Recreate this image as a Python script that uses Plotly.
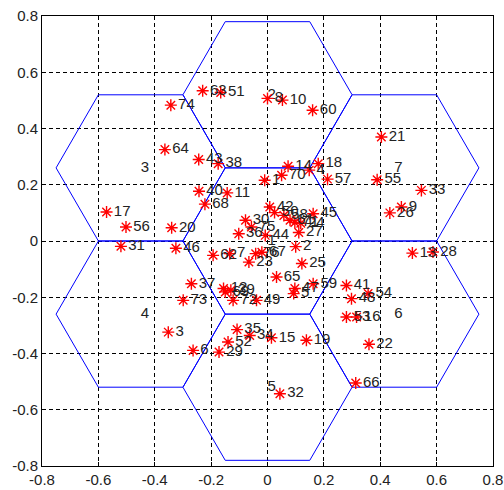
import numpy as np
import plotly.graph_objects as go

# Cell centres (hexagonal layout) and cell labels
cell_x = [0.0, 0.0, -0.45, -0.45, 0.0, 0.45, 0.45]
cell_y = [0.0, 0.52, 0.26, -0.26, -0.52, -0.26, 0.26]
cell_labels = ["1", "2", "3", "4", "5", "6", "7"]
cell_radius = 0.3

# User points
pt_labels = [
    "1", "2", "3", "4", "5", "6", "7", "8", "9", "10",
    "11", "12", "13", "14", "15", "16", "17", "18", "19", "20",
    "21", "22", "23", "24", "25", "26", "27", "28", "29", "30",
    "31", "32", "33", "34", "35", "36", "37", "38", "39", "40",
    "41", "42", "43", "44", "45", "46", "47", "48", "49", "50",
    "51", "52", "53", "54", "55", "56", "57", "58", "59", "60",
    "61", "62", "63", "64", "65", "66", "67", "68", "69", "70",
    "71", "72", "73", "74", "75", "76",
]
pt_x = [
    -0.010, 0.100, -0.352, 0.148, 0.093, -0.264, -0.134, 0.000, 0.475, 0.053,
    -0.143, -0.156, 0.514, 0.073, 0.014, 0.316, -0.571, 0.180, 0.138, -0.340,
    0.404, 0.360, -0.066, 0.118, 0.122, 0.434, 0.111, 0.587, -0.172, -0.078,
    -0.520, 0.044, 0.546, -0.063, -0.108, -0.102, -0.270, -0.175, -0.130, -0.243,
    0.280, 0.008, -0.244, -0.008, 0.162, -0.325, 0.097, 0.298, -0.039, 0.025,
    -0.166, -0.140, 0.280, 0.357, 0.389, -0.502, 0.213, 0.058, 0.162, 0.160,
    0.080, -0.193, -0.230, -0.364, 0.032, 0.313, -0.020, -0.222, -0.150, 0.050,
    0.097, -0.122, -0.299, -0.343, -0.057, -0.042,
]
pt_y = [
    0.216, -0.020, -0.324, 0.252, -0.187, -0.389, -0.045, 0.507, 0.121, 0.501,
    0.171, -0.169, -0.043, 0.266, -0.344, -0.270, 0.103, 0.275, -0.353, 0.047,
    0.370, -0.367, -0.075, 0.063, -0.080, 0.100, 0.030, -0.039, -0.395, 0.074,
    -0.019, -0.543, 0.180, -0.336, -0.315, 0.026, -0.152, 0.275, -0.175, 0.177,
    -0.158, 0.121, 0.290, 0.020, 0.097, -0.026, -0.169, -0.205, -0.211, 0.101,
    0.528, -0.359, -0.270, -0.187, 0.218, 0.050, 0.220, 0.091, -0.152, 0.465,
    0.074, -0.051, 0.534, 0.325, -0.128, -0.505, -0.040, 0.131, -0.181, 0.234,
    0.066, -0.211, -0.211, 0.483, 0.050, -0.045,
]

tick_vals = [-0.8, -0.6, -0.4, -0.2, 0, 0.2, 0.4, 0.6, 0.8]
tick_text = ["-0.8", "-0.6", "-0.4", "-0.2", "0", "0.2", "0.4", "0.6", "0.8"]

fig = go.Figure()

# Hexagon outlines (flat-top), built from centres and radius
ang = np.deg2rad(np.arange(0, 361, 60))
hx, hy = [], []
for cx, cy in zip(cell_x, cell_y):
    hx += list(cx + cell_radius * np.cos(ang)) + [None]
    hy += list(cy + cell_radius * np.sin(ang)) + [None]
fig.add_trace(go.Scatter(x=hx, y=hy, mode="lines",
                         line=dict(color="#0000ff", width=1),
                         hoverinfo="skip", showlegend=False))

label_font = dict(family="Liberation Sans, Arial", size=15, color="#222222")

# Cell labels
fig.add_trace(go.Scatter(x=cell_x, y=cell_y, mode="text", text=cell_labels,
                         textposition="middle right", textfont=label_font,
                         showlegend=False))

# Points
fig.add_trace(go.Scatter(x=pt_x, y=pt_y, mode="markers+text", text=pt_labels,
                         textposition="middle right",
                         marker=dict(symbol="asterisk-open", size=10,
                                     line=dict(color="#ff0000", width=1.4), color="#ff0000"),
                         textfont=label_font, showlegend=False))

axis_common = dict(
    range=[-0.8, 0.8], tickvals=tick_vals, ticktext=tick_text,
    showgrid=True, gridcolor="#000000", griddash="4px,3px", gridwidth=1,
    zeroline=False, showline=True, linecolor="#000000", linewidth=1,
    mirror=True, ticks="inside", ticklen=4, tickcolor="#000000",
    automargin=False,
    tickfont=dict(family="Liberation Sans, Arial", size=15, color="#222222"),
)

fig.update_layout(
    width=504, height=490,
    margin=dict(l=42, r=11, t=16, b=24),
    paper_bgcolor="white", plot_bgcolor="white",
    xaxis=axis_common, yaxis=axis_common,
    showlegend=False,
)

fig.write_html("out.html")
